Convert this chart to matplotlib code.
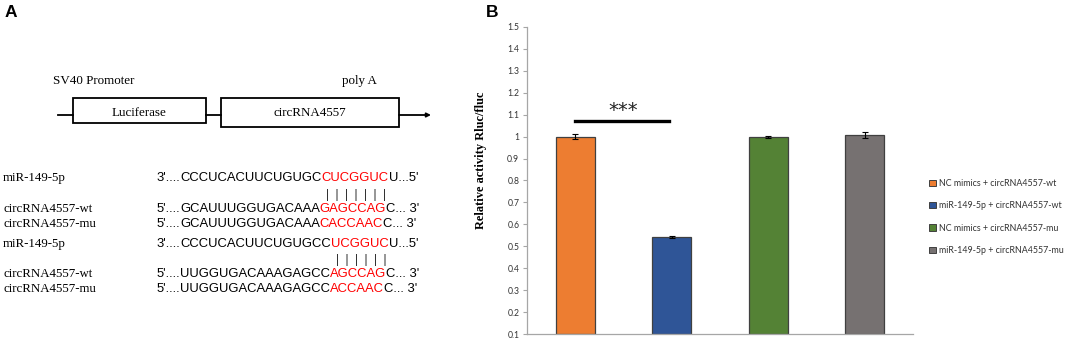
import matplotlib
matplotlib.use("Agg")
import matplotlib.pyplot as plt
from matplotlib.patches import Rectangle, Patch

# ---------------- data ----------------
groups = ["NC mimics + circRNA4557-wt", "miR-149-5p + circRNA4557-wt",
          "NC mimics + circRNA4557-mu", "miR-149-5p + circRNA4557-mu"]
values = [1.0, 0.543, 1.0, 1.007]
errors = [0.010, 0.005, 0.005, 0.012]
colors = ["#ED7D31", "#2F5597", "#548235", "#767171"]
yticks = [0.1, 0.2, 0.3, 0.4, 0.5, 0.6, 0.7, 0.8, 0.9, 1.0, 1.1, 1.2, 1.3, 1.4, 1.5]
ytick_labels = ["0.1", "0.2", "0.3", "0.4", "0.5", "0.6", "0.7", "0.8", "0.9", "1",
                "1.1", "1.2", "1.3", "1.4", "1.5"]
sig_pair = (0, 1)
sig_level = 1.071
sig_text = "***"

seq_labels = ["miR-149-5p", "circRNA4557-wt", "circRNA4557-mu",
              "miR-149-5p", "circRNA4557-wt", "circRNA4557-mu"]
seq_prefix = ["3'....", "5'....", "5'....", "3'....", "5'....", "5'...."]
seq_parts = [
    ("CCCUCACUUCUGUGC", "CUCGGUC", "U...5'"),
    ("GCAUUUGGUGACAAA", "GAGCCAG", "C... 3'"),
    ("GCAUUUGGUGACAAA", "CACCAAC", "C... 3'"),
    ("CCCUCACUUCUGUGCC", "UCGGUC", "U...5'"),
    ("UUGGUGACAAAGAGCC", "AGCCAG", "C... 3'"),
    ("UUGGUGACAAAGAGCC", "ACCAAC", "C... 3'"),
]
pair_bars = ["|  |  |  |  |  |  |", "|  |  |  |  |  |"]

W, H = 1065, 340
fig = plt.figure(figsize=(W / 100, H / 100), dpi=100)

# ---------------- panel A (pixel coordinates) ----------------
axA = fig.add_axes([0, 0, 1, 1])
axA.set_xlim(0, W)
axA.set_ylim(H, 0)
axA.axis("off")

serif = "Liberation Serif"
sans = "Liberation Sans"

axA.text(5, 17, "A", fontsize=12.5, fontweight="bold", family=sans, va="baseline")
axA.text(486, 17, "B", fontsize=12.5, fontweight="bold", family=sans, va="baseline")

axA.text(53, 84, "SV40 Promoter", fontsize=9.4, family=serif, va="baseline")
axA.text(342, 84, "poly A", fontsize=9.4, family=serif, va="baseline")
axA.plot([58, 73], [115, 115], color="black", lw=1.3)
axA.add_patch(Rectangle((73, 98), 133, 25, fill=False, lw=1.3, ec="black"))
axA.text(139.5, 113, "Luciferase", fontsize=9.4, family=serif, ha="center", va="center")
axA.plot([206, 221], [115, 115], color="black", lw=1.3)
axA.add_patch(Rectangle((221, 98), 178, 29, fill=False, lw=1.3, ec="black"))
axA.text(310, 113, "circRNA4557", fontsize=9.4, family=serif, ha="center", va="center")
axA.annotate("", xy=(431, 115), xytext=(399, 115),
             arrowprops=dict(arrowstyle="-|>", color="black", lw=1.3,
                             mutation_scale=6, shrinkA=0, shrinkB=0))

row_y = [181, 212, 227, 247, 277, 292]
bar_y = [198, 263]
bar_x = [326, 336]
seq_x = 180
fs = 9.4
for lab, pre, parts, y in zip(seq_labels, seq_prefix, seq_parts, row_y):
    axA.text(3, y, lab, fontsize=9.3, family=serif, va="baseline")
    axA.text(seq_x, y, pre, fontsize=fs, family=sans, va="baseline", ha="right")
    t = axA.text(seq_x, y, parts[0], fontsize=fs, family=sans, va="baseline", ha="left")
    t = axA.annotate(parts[1], xy=(1, 0), xycoords=t, va="bottom", ha="left",
                     fontsize=fs, family=sans, color="#FF0000")
    axA.annotate(parts[2], xy=(1, 0), xycoords=t, va="bottom", ha="left",
                 fontsize=fs, family=sans, color="black")
for b, y, x in zip(pair_bars, bar_y, bar_x):
    axA.text(x, y, b, fontsize=8.5, family=sans, va="baseline", ha="left", color="#333333")

# ---------------- panel B ----------------
left, right = 527 / W, 913 / W
bottom, top = 1 - 334 / H, 1 - 27 / H
ax = fig.add_axes([left, bottom, right - left, top - bottom])
x = list(range(len(values)))
bars = ax.bar(x, [v - 0.1 for v in values], bottom=0.1, width=0.4, color=colors,
              edgecolor="#404040", linewidth=0.9, zorder=2)
ax.errorbar(x, values, yerr=errors, fmt="none", ecolor="black", elinewidth=0.8,
            capsize=2.5, capthick=0.8, zorder=3)
ax.set_xlim(-0.5, 3.5)
ax.set_ylim(0.1, 1.5)
ax.set_yticks(yticks)
ax.set_yticklabels(ytick_labels, fontsize=6.2, family="Lato", color="#333333")
ax.set_xticks([])
for s in ["top", "right"]:
    ax.spines[s].set_visible(False)
for s in ["left", "bottom"]:
    ax.spines[s].set_color("#A6A6A6")
    ax.spines[s].set_linewidth(0.9)
ax.tick_params(axis="y", length=3, width=0.8, color="#A6A6A6", pad=2.5)
ax.set_ylabel("Relative activity Rluc/fluc", fontsize=8.9, family=serif,
              fontweight="bold")
ax.yaxis.set_label_coords(-0.103, 0.567)

x0 = x[sig_pair[0]]
x1 = x[sig_pair[1]]
ax.plot([x0, x1 - 0.03], [sig_level, sig_level], color="black", lw=2.4, zorder=3)
ax.text((x0 + x1) / 2, sig_level + 0.005, sig_text, fontsize=14, ha="center",
        va="bottom", color="#222222", family="DejaVu Sans")

handles = [Patch(facecolor=c, edgecolor="#404040", linewidth=0.7) for c in colors]
fig.legend(handles, groups, loc="upper left", bbox_to_anchor=(929 / W, 1 - 179 / H),
           frameon=False, prop=dict(family="Lato", size=6.4), handlelength=0.75,
           handleheight=0.75, handletextpad=0.35, labelspacing=1.5,
           borderpad=0, borderaxespad=0, labelcolor="#333333")

fig.savefig("out.png", dpi=100)
